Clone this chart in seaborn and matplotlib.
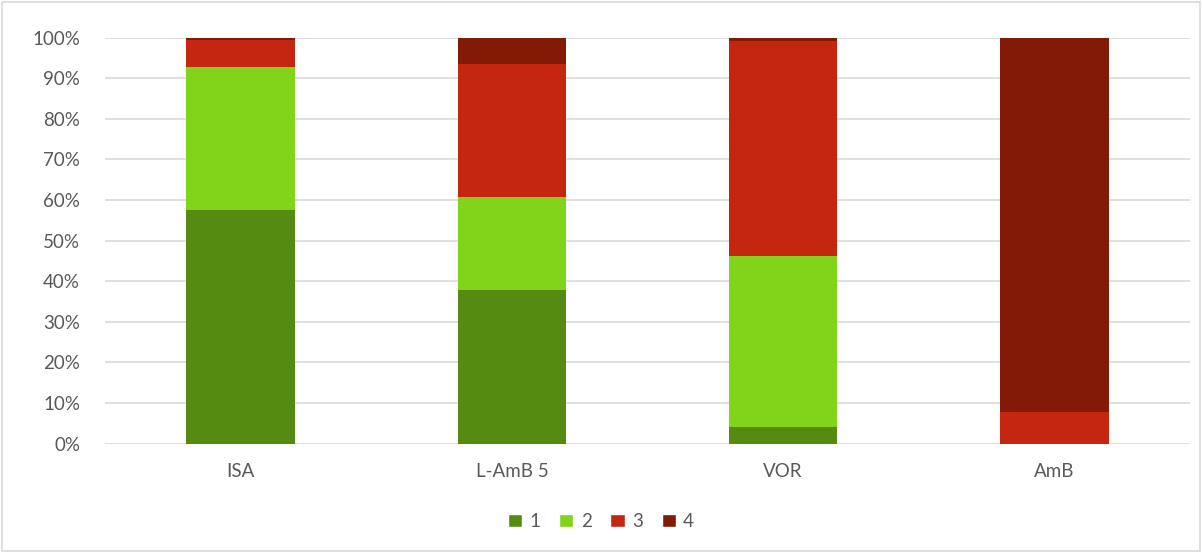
import matplotlib
matplotlib.use("Agg")
import matplotlib.pyplot as plt
import seaborn as sns
import pandas as pd
import numpy as np
from matplotlib.patches import Patch

sns.set_style("white")
plt.rcParams['font.family'] = ['Lato', 'DejaVu Sans']

categories = ["ISA", "L-AmB 5", "VOR", "AmB"]
series = ["1", "2", "3", "4"]
s1 = [57.5, 37.8, 4.0, 0.0]
s2 = [35.3, 22.9, 42.2, 0.0]
s3 = [6.7, 32.7, 53.0, 7.8]
s4 = [0.5, 6.6, 0.8, 92.2]
colors = ["#558B10", "#81D41A", "#C4260F", "#821A06"]
text_col = "#595959"

vals = np.array([s1, s2, s3, s4])
cum = np.cumsum(vals, axis=0) / 100.0

fig = plt.figure(figsize=(12.02, 5.53), dpi=100)
ax = fig.add_axes([0.0874, 0.198, 0.9026, 0.734])

# draw from the top layer down so each stack shows through
for i in range(3, -1, -1):
    df = pd.DataFrame({"cat": categories, "val": cum[i]})
    sns.barplot(data=df, x="cat", y="val", color=colors[i], width=0.4,
                saturation=1, linewidth=0, ax=ax, zorder=3)

ax.set_ylim(0, 1)
ax.set_yticks(np.arange(0, 1.01, 0.1))
ax.set_yticklabels([f"{int(round(t*100))}%" for t in np.arange(0, 1.01, 0.1)])
ax.yaxis.grid(True, color="#D9D9D9", linewidth=1.2, zorder=0)
ax.set_axisbelow(True)
for sp in ax.spines.values():
    sp.set_visible(False)
ax.set_xlabel("")
ax.set_ylabel("")
ax.tick_params(axis="both", length=0, colors=text_col, labelsize=13.5)
ax.tick_params(axis="x", pad=14)
ax.tick_params(axis="y", pad=18)

handles = [Patch(facecolor=c, label=s) for c, s in zip(colors, series)]
fig.legend(handles=handles, loc="center", bbox_to_anchor=(0.5, 0.057), ncol=4,
           frameon=False, handlelength=0.75, handleheight=0.75, handletextpad=0.4,
           columnspacing=1.0, fontsize=13.5, labelcolor=text_col)

fig.patches.append(plt.Rectangle((0.002, 0.003), 0.996, 0.994, transform=fig.transFigure,
                                 fill=False, edgecolor="#D9D9D9", linewidth=1.2))

fig.savefig("out.png", dpi=100)
